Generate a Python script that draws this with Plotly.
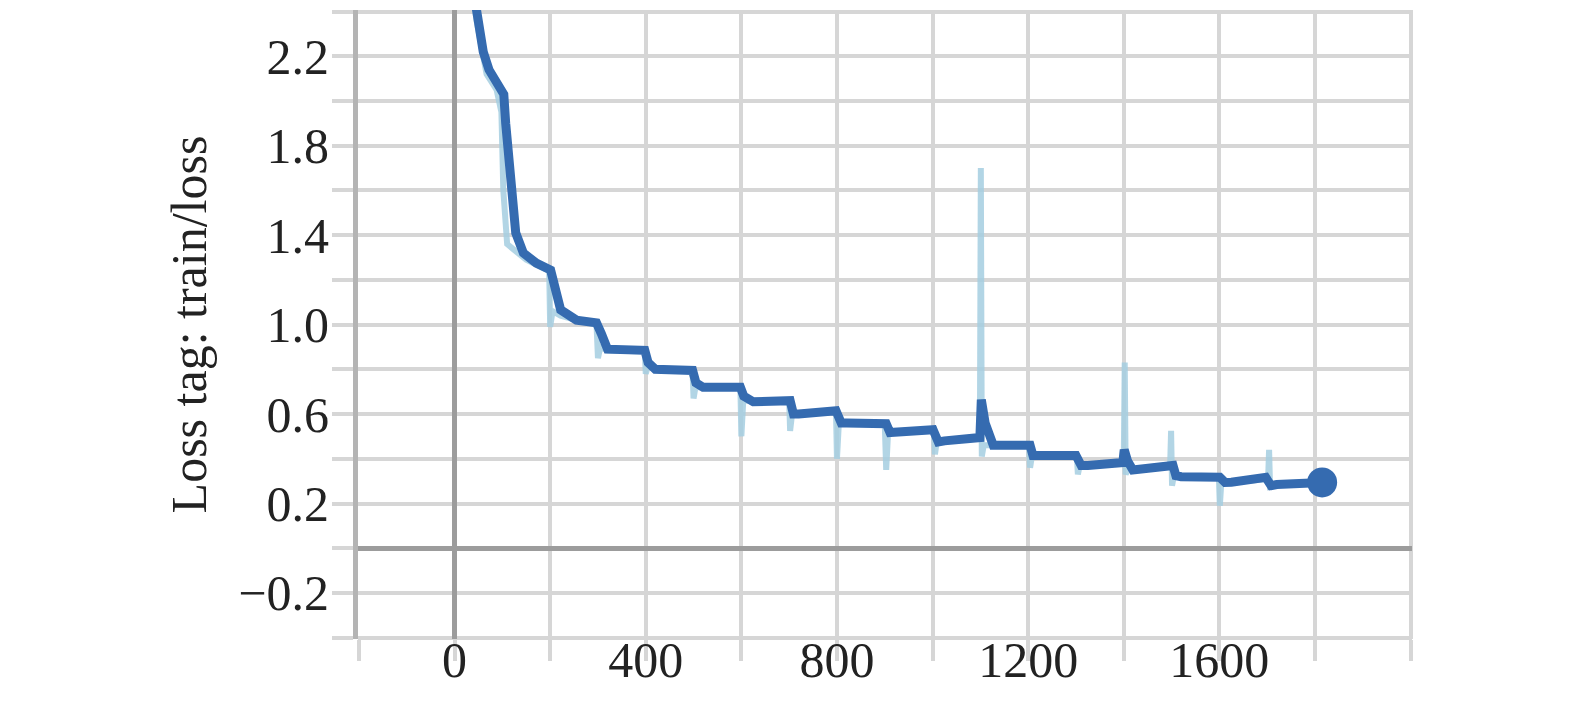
import plotly.graph_objects as go

# Smoothed training loss (dark line)
smooth_step = [30, 46, 60, 72, 88, 103, 107, 117, 128, 144, 171, 201, 207, 222, 255, 297, 307, 320,
               398, 405, 420, 498, 505, 520, 598, 605, 625, 702, 709, 720, 798, 809, 820,
               903, 911, 925, 1001, 1012, 1025, 1099, 1102, 1110, 1127, 1204, 1210, 1225,
               1300, 1311, 1325, 1398, 1401, 1408, 1419, 1503, 1509, 1520, 1601, 1612, 1625,
               1697, 1708, 1720, 1815]
smooth_loss = [2.62, 2.39, 2.22, 2.14, 2.09, 2.03, 1.90, 1.645, 1.41, 1.32, 1.275, 1.244, 1.186, 1.066, 1.02, 1.008, 0.96, 0.89,
               0.885, 0.83, 0.80, 0.795, 0.74, 0.72, 0.72, 0.68, 0.655, 0.66, 0.60, 0.60, 0.615, 0.56, 0.56,
               0.557, 0.517, 0.52, 0.53, 0.475, 0.48, 0.495, 0.664, 0.56, 0.46, 0.46, 0.415, 0.415,
               0.415, 0.37, 0.37, 0.383, 0.44, 0.39, 0.35, 0.37, 0.325, 0.32, 0.317, 0.294, 0.295,
               0.317, 0.28, 0.285, 0.294]

# Raw training loss (light line)
raw_step = [30, 46, 67, 88, 98, 102, 110, 128, 150, 198, 200, 205, 222, 255, 297, 300, 305, 320,
            398, 400, 405, 420, 498, 500, 504, 598, 600, 604, 700, 702, 706, 798, 800, 804,
            900, 903, 907, 1003, 1005, 1009, 1099, 1101, 1103, 1107, 1202, 1204, 1208,
            1302, 1304, 1308, 1400, 1402, 1404, 1408, 1497, 1499, 1501, 1505, 1599, 1601, 1604,
            1702, 1704, 1706, 1710, 1815]
raw_loss = [2.62, 2.36, 2.12, 2.05, 1.95, 1.60, 1.36, 1.33, 1.29, 1.24, 0.99, 1.06, 1.04, 1.02, 1.0, 0.85, 0.90, 0.885,
            0.88, 0.78, 0.82, 0.80, 0.79, 0.67, 0.72, 0.72, 0.50, 0.66, 0.66, 0.525, 0.60, 0.61, 0.40, 0.56,
            0.555, 0.35, 0.52, 0.53, 0.42, 0.48, 0.49, 1.70, 0.41, 0.46, 0.46, 0.36, 0.415,
            0.41, 0.33, 0.37, 0.38, 0.83, 0.33, 0.35, 0.37, 0.525, 0.28, 0.325, 0.315, 0.19, 0.29,
            0.31, 0.44, 0.28, 0.285, 0.294]

x_ticks = list(range(-200, 2001, 200))
x_labels = ["0", "400", "800", "1200", "1600"]
y_ticks = [round(-0.4 + 0.2 * i, 1) for i in range(15)]
y_labels = ["−0.2", "0.2", "0.6", "1.0", "1.4", "1.8", "2.2"]

x_text = []
for v in x_ticks:
    s = str(v)
    x_text.append(s if s in x_labels else "")
y_text = []
for v in y_ticks:
    s = ("−" + f"{abs(v):.1f}") if v < 0 else f"{v:.1f}"
    y_text.append(s if s in y_labels else "")

fig = go.Figure()
fig.add_trace(go.Scatter(x=raw_step, y=raw_loss, mode="lines",
                         line=dict(color="rgba(165,206,224,0.85)", width=6),
                         hoverinfo="skip", showlegend=False))
fig.add_trace(go.Scatter(x=smooth_step, y=smooth_loss, mode="lines",
                         line=dict(color="#356bb0", width=9),
                         showlegend=False))
fig.add_trace(go.Scatter(x=[smooth_step[-1]], y=[smooth_loss[-1]], mode="markers",
                         marker=dict(color="#356bb0", size=30),
                         showlegend=False))

font = dict(family="Liberation Serif", size=50, color="#222222")
fig.update_layout(
    width=1567, height=714,
    margin=dict(l=350, r=163, t=2, b=83),
    paper_bgcolor="white", plot_bgcolor="white",
    font=font,
    xaxis=dict(range=[-202, 2003], tickvals=x_ticks, ticktext=x_text,
               showgrid=True, gridcolor="#d6d6d6", gridwidth=4,
               zeroline=True, zerolinecolor="#9c9c9c", zerolinewidth=5,
               ticks="outside", ticklen=21, tickwidth=4, tickcolor="#d6d6d6",
               ticklabelstandoff=-44,
               showline=False, automargin=False, tickfont=font),
    yaxis=dict(range=[-0.406, 2.407], tickvals=y_ticks, ticktext=y_text,
               showgrid=True, gridcolor="#d6d6d6", gridwidth=4,
               zeroline=True, zerolinecolor="#9c9c9c", zerolinewidth=5,
               ticks="outside", ticklen=21, tickwidth=4, tickcolor="#d6d6d6",
               ticklabelstandoff=-7,
               showline=True, linecolor="#b4b4b4", linewidth=5,
               title=dict(text="Loss tag: train/loss", font=font, standoff=17),
               automargin=False, tickfont=font),
)

fig.write_html("out.html")
